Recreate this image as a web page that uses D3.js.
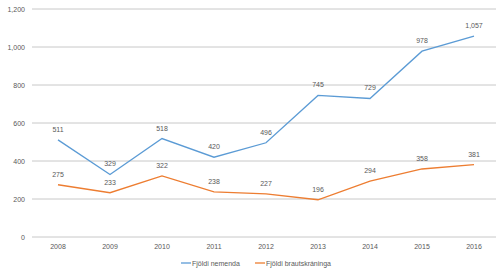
<!DOCTYPE html>
<html>
<head>
<meta charset="utf-8">
<script src="https://cdn.jsdelivr.net/npm/d3@7"></script>
<style>
  body { margin: 0; background: #fff; }
  text { font-family: "Liberation Sans", Arial, sans-serif; fill: #595959; }
</style>
</head>
<body>
<div id="chart"></div>
<script>
const years = ['2008', '2009', '2010', '2011', '2012', '2013', '2014', '2015', '2016']
const nemendur = [511, 329, 518, 420, 496, 745, 729, 978, 1057]
const brautskraningar = [275, 233, 322, 238, 227, 196, 294, 358, 381]
const yTicks = [0, 200, 400, 600, 800, 1000, 1200]
const seriesNames = ['Fjöldi nemenda', 'Fjöldi brautskráninga']
const seriesColors = ['#5b9bd5', '#ed7d31']

const width = 496, height = 276
const svg = d3.select('#chart').append('svg')
    .attr('width', width)
    .attr('height', height)

const x = d3.scalePoint().domain(years).range([32, 500]).padding(0.5)
const y = d3.scaleLinear().domain([0, 1200]).range([237, 9])

// gridlines
svg.append('g')
    .selectAll('line')
    .data(yTicks)
    .join('line')
    .attr('x1', 32)
    .attr('x2', 496)
    .attr('y1', d => y(d))
    .attr('y2', d => y(d))
    .attr('stroke', '#c8c8c8')
    .attr('stroke-width', 1)

// y labels
const fmt = d3.format(',')
svg.append('g')
    .selectAll('text')
    .data(yTicks)
    .join('text')
    .attr('x', 25)
    .attr('y', d => y(d) + 2.5)
    .attr('text-anchor', 'end')
    .attr('font-size', '7px')
    .text(d => fmt(d))

// x labels
svg.append('g')
    .selectAll('text')
    .data(years)
    .join('text')
    .attr('x', d => x(d))
    .attr('y', 249)
    .attr('text-anchor', 'middle')
    .attr('font-size', '7px')
    .text(d => d)

const line = d3.line()
    .x((d, i) => x(years[i]))
    .y(d => y(d))

const allSeries = [nemendur, brautskraningar]
allSeries.forEach((vals, s) => {
    svg.append('path')
        .datum(vals)
        .attr('d', line)
        .attr('fill', 'none')
        .attr('stroke', seriesColors[s])
        .attr('stroke-width', 1.3)

    svg.append('g')
        .selectAll('text')
        .data(vals)
        .join('text')
        .attr('x', (d, i) => x(years[i]))
        .attr('y', d => y(d) - 8)
        .attr('text-anchor', 'middle')
        .attr('font-size', '7px')
        .text(d => fmt(d))
})

// legend
const legendX = [181, 255]
seriesNames.forEach((name, s) => {
    const g = svg.append('g').attr('transform', `translate(${legendX[s]}, 263)`)
    g.append('line')
        .attr('x1', 0).attr('x2', 10)
        .attr('stroke', seriesColors[s])
        .attr('stroke-width', 1.3)
    g.append('text')
        .attr('x', 11)
        .attr('y', 2.5)
        .attr('font-size', '7px')
        .text(name)
})
</script>
</body>
</html>
